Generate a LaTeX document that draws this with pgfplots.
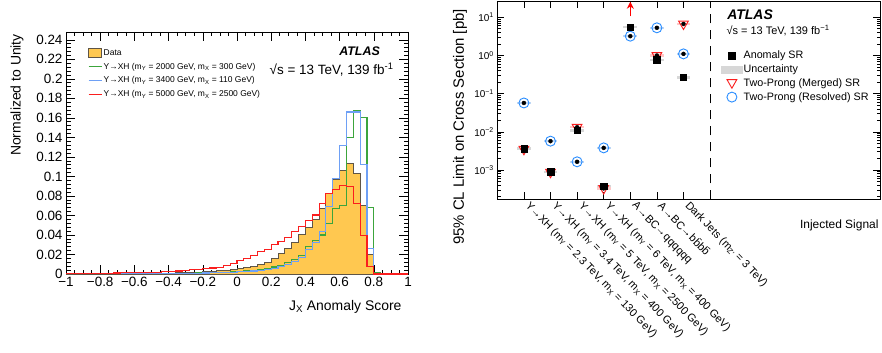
\documentclass[border=0pt]{standalone}
\usepackage{fontspec}
\setmainfont{Liberation Sans}
\usepackage{pgfplots}
\pgfplotsset{compat=1.18}
\usetikzlibrary{arrows.meta}
\definecolor{dataorange}{RGB}{255,200,80}
\definecolor{dataedge}{RGB}{95,85,70}
\definecolor{sigG}{RGB}{60,165,60}
\definecolor{sigB}{RGB}{110,160,245}
\definecolor{sigR}{RGB}{250,30,30}
\definecolor{circB}{RGB}{40,140,255}
\definecolor{bandP}{RGB}{255,200,200}
\definecolor{bandB}{RGB}{190,215,245}
\definecolor{bandG}{RGB}{215,215,215}
\newcommand{\fs}[1]{\fontsize{#1}{#1}\selectfont}
\begin{document}
\begin{tikzpicture}[x=1bp,y=1bp]
\useasboundingbox (0,0) rectangle (882,352);
% ---------------- left panel ----------------
\begin{axis}[
  at={(66bp,78bp)}, anchor=south west, scale only axis,
  width=342bp, height=242bp,
  xmin=-1, xmax=1, ymin=0, ymax=0.248,
  xtick={-1,-0.8,-0.6,-0.4,-0.2,0,0.2,0.4,0.6,0.8,1},
  xticklabels={−1,−0.8,−0.6,−0.4,−0.2,0,0.2,0.4,0.6,0.8,1},
  ytick={0,0.02,0.04,0.06,0.08,0.1,0.12,0.14,0.16,0.18,0.2,0.22,0.24},
  yticklabels={0,0.02,0.04,0.06,0.08,0.1,0.12,0.14,0.16,0.18,0.2,0.22,0.24},
  minor x tick num=3, minor y tick num=4,
  tick align=inside, xtick pos=both, ytick pos=both,
  xticklabel pos=lower, yticklabel pos=left,
  major tick length=9bp, minor tick length=4.5bp,
  tick style={black, line width=0.6bp},
  axis line style={line width=0.7bp},
  ticklabel style={font=\fs{13.5}},
  legend cell align=left,
  legend style={at={(0.064,0.935)}, anchor=north west, draw=none, fill=none,
    font=\fs{8.5}, row sep=3.2bp, inner sep=0pt,
    nodes={inner sep=1.5bp}},
]
\addplot[const plot, fill=dataorange, draw=dataedge, line width=1bp,
  legend image code/.code={\draw[fill=dataorange, draw=dataedge, line width=0.8bp] (0bp,-4.5bp) rectangle (13bp,4.5bp);}]
 table {
-1.00 0.0001
-0.96 0.0001
-0.92 0.0001
-0.88 0.0002
-0.84 0.0002
-0.80 0.0002
-0.76 0.0003
-0.72 0.0003
-0.68 0.0003
-0.64 0.0004
-0.60 0.0004
-0.56 0.0005
-0.52 0.0006
-0.48 0.0007
-0.44 0.0008
-0.40 0.0009
-0.36 0.0011
-0.32 0.0013
-0.28 0.0015
-0.24 0.0018
-0.20 0.0022
-0.16 0.0026
-0.12 0.0031
-0.08 0.0037
-0.04 0.0044
0.00 0.0053
0.04 0.0064
0.08 0.0078
0.12 0.0095
0.16 0.0120
0.20 0.0160
0.24 0.0205
0.28 0.0260
0.32 0.0320
0.36 0.0400
0.40 0.0480
0.44 0.0555
0.48 0.0670
0.52 0.0830
0.56 0.0970
0.60 0.1060
0.64 0.1130
0.68 0.1030
0.72 0.0700
0.76 0.0200
0.80 0.0200
} \closedcycle;
\addlegendentry{Data}
\addplot[const plot, draw=sigG, line width=1.1bp,
  legend image code/.code={\draw[sigG, line width=1.1bp] (0bp,0bp) -- (13bp,0bp);}]
 table {
-1.00 0.0001
-0.96 0.0001
-0.92 0.0001
-0.88 0.0001
-0.84 0.0002
-0.80 0.0002
-0.76 0.0002
-0.72 0.0002
-0.68 0.0003
-0.64 0.0003
-0.60 0.0003
-0.56 0.0004
-0.52 0.0004
-0.48 0.0005
-0.44 0.0005
-0.40 0.0006
-0.36 0.0007
-0.32 0.0008
-0.28 0.0009
-0.24 0.0010
-0.20 0.0012
-0.16 0.0014
-0.12 0.0017
-0.08 0.0020
-0.04 0.0024
0.00 0.0028
0.04 0.0033
0.08 0.0040
0.12 0.0048
0.16 0.0058
0.20 0.0072
0.24 0.0090
0.28 0.0115
0.32 0.0145
0.36 0.0190
0.40 0.0280
0.44 0.0340
0.48 0.0400
0.52 0.0520
0.56 0.0670
0.60 0.0700
0.64 0.1400
0.68 0.1680
0.72 0.1600
0.76 0.0680
0.80 0.0020
0.84 0.0000
1.00 0.0000
};
\addlegendentry{Y→XH (m\textsubscript{Y} = 2000 GeV, m\textsubscript{X} = 300 GeV)}
\addplot[const plot, draw=sigB, line width=1.1bp,
  legend image code/.code={\draw[sigB, line width=1.1bp] (0bp,0bp) -- (13bp,0bp);}]
 table {
-1.00 0.0001
-0.96 0.0001
-0.92 0.0001
-0.88 0.0001
-0.84 0.0001
-0.80 0.0001
-0.76 0.0002
-0.72 0.0002
-0.68 0.0002
-0.64 0.0002
-0.60 0.0003
-0.56 0.0003
-0.52 0.0003
-0.48 0.0004
-0.44 0.0004
-0.40 0.0005
-0.36 0.0005
-0.32 0.0006
-0.28 0.0007
-0.24 0.0008
-0.20 0.0010
-0.16 0.0012
-0.12 0.0014
-0.08 0.0016
-0.04 0.0019
0.00 0.0022
0.04 0.0026
0.08 0.0031
0.12 0.0038
0.16 0.0047
0.20 0.0060
0.24 0.0076
0.28 0.0098
0.32 0.0128
0.36 0.0170
0.40 0.0250
0.44 0.0320
0.48 0.0440
0.52 0.0690
0.56 0.0980
0.60 0.1316
0.64 0.1660
0.68 0.1660
0.72 0.1120
0.76 0.0260
0.80 0.0000
1.00 0.0000
};
\addlegendentry{Y→XH (m\textsubscript{Y} = 3400 GeV, m\textsubscript{X} = 110 GeV)}
\addplot[const plot, draw=sigR, line width=1.1bp,
  legend image code/.code={\draw[sigR, line width=1.1bp] (0bp,0bp) -- (13bp,0bp);}]
 table {
-1.00 0.0004
-0.96 0.0005
-0.92 0.0005
-0.88 0.0006
-0.84 0.0007
-0.80 0.0008
-0.76 0.0009
-0.72 0.0010
-0.68 0.0011
-0.64 0.0012
-0.60 0.0014
-0.56 0.0016
-0.52 0.0018
-0.48 0.0020
-0.44 0.0023
-0.40 0.0027
-0.36 0.0031
-0.32 0.0036
-0.28 0.0042
-0.24 0.0049
-0.20 0.0056
-0.16 0.0062
-0.12 0.0068
-0.08 0.0085
-0.04 0.0110
0.00 0.0137
0.04 0.0160
0.08 0.0185
0.12 0.0230
0.16 0.0250
0.20 0.0300
0.24 0.0330
0.28 0.0376
0.32 0.0440
0.36 0.0485
0.40 0.0545
0.44 0.0605
0.48 0.0725
0.52 0.0827
0.56 0.0870
0.60 0.0910
0.64 0.0900
0.68 0.0725
0.72 0.0390
0.76 0.0075
0.80 0.0000
1.00 0.0000
};
\addlegendentry{Y→XH (m\textsubscript{Y} = 5000 GeV, m\textsubscript{X} = 2500 GeV)}
\node[anchor=east, font=\bfseries\itshape\fs{12.5}] at (rel axis cs:0.928,0.919) {ATLAS};
\node[anchor=east, font=\fs{13.5}] at (rel axis cs:0.968,0.843) {√s = 13 TeV, 139 fb\textsuperscript{-1}};
\end{axis}
\node[anchor=east, font=\fs{14}] at (405,45) {J\textsubscript{X} Anomaly Score};
\node[rotate=90, font=\fs{14}] at (17,257) {Normalized to Unity};
% ---------------- right panel ----------------
\begin{axis}[
  at={(497.3bp,152.7bp)}, anchor=south west, scale only axis,
  width=382.7bp, height=198.3bp,
  ymode=log, log basis y=10, ymin=1.71e-4, ymax=26.7,
  xmin=0, xmax=14.39,
  xtick={1,2,3,4,5,6,7,8},
  xticklabels={{Y→XH (m\textsubscript{Y} = 2.3 TeV, m\textsubscript{X} = 130 GeV)},
    {Y→XH (m\textsubscript{Y} = 3.4 TeV, m\textsubscript{X} = 400 GeV)},
    {Y→XH (m\textsubscript{Y} = 5 TeV, m\textsubscript{X} = 2500 GeV)},
    {Y→XH (m\textsubscript{Y} = 6 TeV, m\textsubscript{X} = 400 GeV)},
    {A→BC→qqqqqq},
    {A→BC→b\={b}b\={b}},
    {Dark Jets (m\textsubscript{Z'} = 3 TeV)},{}},
  xticklabel style={xshift=7bp, yshift=-1bp, rotate=-46, anchor=north west, font=\fs{11}, inner sep=0pt},
  yticklabel={\pgfmathtruncatemacro\e{round(\tick)}10\textsuperscript{\ifnum\e<0 −\number-\e\else\e\fi}},
  yticklabel style={font=\fs{10}},
  tick align=inside, xtick pos=both, ytick pos=both,
  xticklabel pos=lower, yticklabel pos=left,
  major tick length=7bp, minor tick length=3.5bp,
  tick style={black, line width=0.6bp},
  axis line style={line width=0.7bp},
  legend cell align=left,
  legend style={at={(0.5845,0.755)}, anchor=north west, draw=none, fill=none,
    font=\fs{10.8}, row sep=2.6bp, inner sep=0pt, nodes={inner sep=1bp}},
]
% uncertainty bands
\addplot[only marks, mark=none, forget plot,
  error bars/.cd, x dir=both, x fixed=0.26, error mark=none,
  error bar style={draw=bandB, line width=2.5bp}]
  coordinates {(1,0.057) (2,5.7e-3) (3,1.64e-3) (4,3.8e-3) (5,3.2) (6,5.3) (7,1.1)};
\addplot[only marks, mark=none, forget plot,
  error bars/.cd, x dir=both, x fixed=0.26, error mark=none,
  error bar style={draw=bandP, line width=2.5bp}]
  coordinates {(1,3.5e-3) (2,8.8e-4) (3,0.0132) (4,3.3e-4) (6,1.0) (7,6.7)};
\addplot[only marks, mark=none, forget plot,
  error bars/.cd, x dir=both, x fixed=0.26, error mark=none,
  error bar style={draw=bandG, line width=2.5bp}]
  coordinates {(1,3.65e-3) (2,9.0e-4) (3,0.011) (4,3.8e-4) (5,5.5) (6,0.77) (7,0.265)};
% markers
\addplot[only marks, mark=o, mark size=5bp, circB, line width=0.9bp, forget plot]
  coordinates {(1,0.057) (2,5.7e-3) (3,1.64e-3) (4,3.8e-3) (5,3.2) (6,5.3) (7,1.1)};
\addplot[only marks, mark=triangle, mark size=5.6bp, sigR, line width=0.9bp, mark options={rotate=180}, forget plot]
  coordinates {(1,3.5e-3) (2,8.8e-4) (3,0.0132) (4,3.3e-4) (6,1.0) (7,6.7)};
\addplot[only marks, mark=square*, mark size=3.2bp, black, forget plot]
  coordinates {(1,3.65e-3) (2,9.0e-4) (3,0.011) (4,3.8e-4) (5,5.5) (6,0.77) (7,0.265)};
\addplot[red, line width=1.4bp, -{Stealth[length=7bp,width=7bp]}, forget plot]
  coordinates {(5,10.5) (5,25.5)};
\addplot[black, line width=1bp, dash pattern=on 9bp off 7bp, forget plot]
  coordinates {(8,1.71e-4) (8,26.7)};
% legend
\addlegendimage{legend image code/.code={\fill[black] (7bp,-3.3bp) rectangle (13.6bp,3.3bp);}}
\addlegendentry{Anomaly SR}
\addlegendimage{legend image code/.code={\fill[bandG] (0bp,-3.5bp) rectangle (21bp,3.5bp);}}
\addlegendentry{Uncertainty}
\addlegendimage{legend image code/.code={\draw[sigR, line width=0.9bp] (5.6bp,3.6bp) -- (15.4bp,3.6bp) -- (10.5bp,-5bp) -- cycle;}}
\addlegendentry{Two-Prong (Merged) SR}
\addlegendimage{legend image code/.code={\draw[circB, line width=0.9bp] (10.5bp,0bp) circle (5bp);}}
\addlegendentry{Two-Prong (Resolved) SR}
\node[anchor=west, font=\bfseries\itshape\fs{14}] at (rel axis cs:0.592,0.929) {ATLAS};
\node[anchor=west, font=\fs{11}] at (rel axis cs:0.590,0.853) {√s = 13 TeV, 139 fb\textsuperscript{−1}};
\end{axis}
\node[rotate=90, font=\fs{15}] at (460,225) {95\% CL Limit on Cross Section [pb]};
\node[anchor=east, font=\fs{12}] at (882,127) {Injected Signal};
\end{tikzpicture}
\end{document}
